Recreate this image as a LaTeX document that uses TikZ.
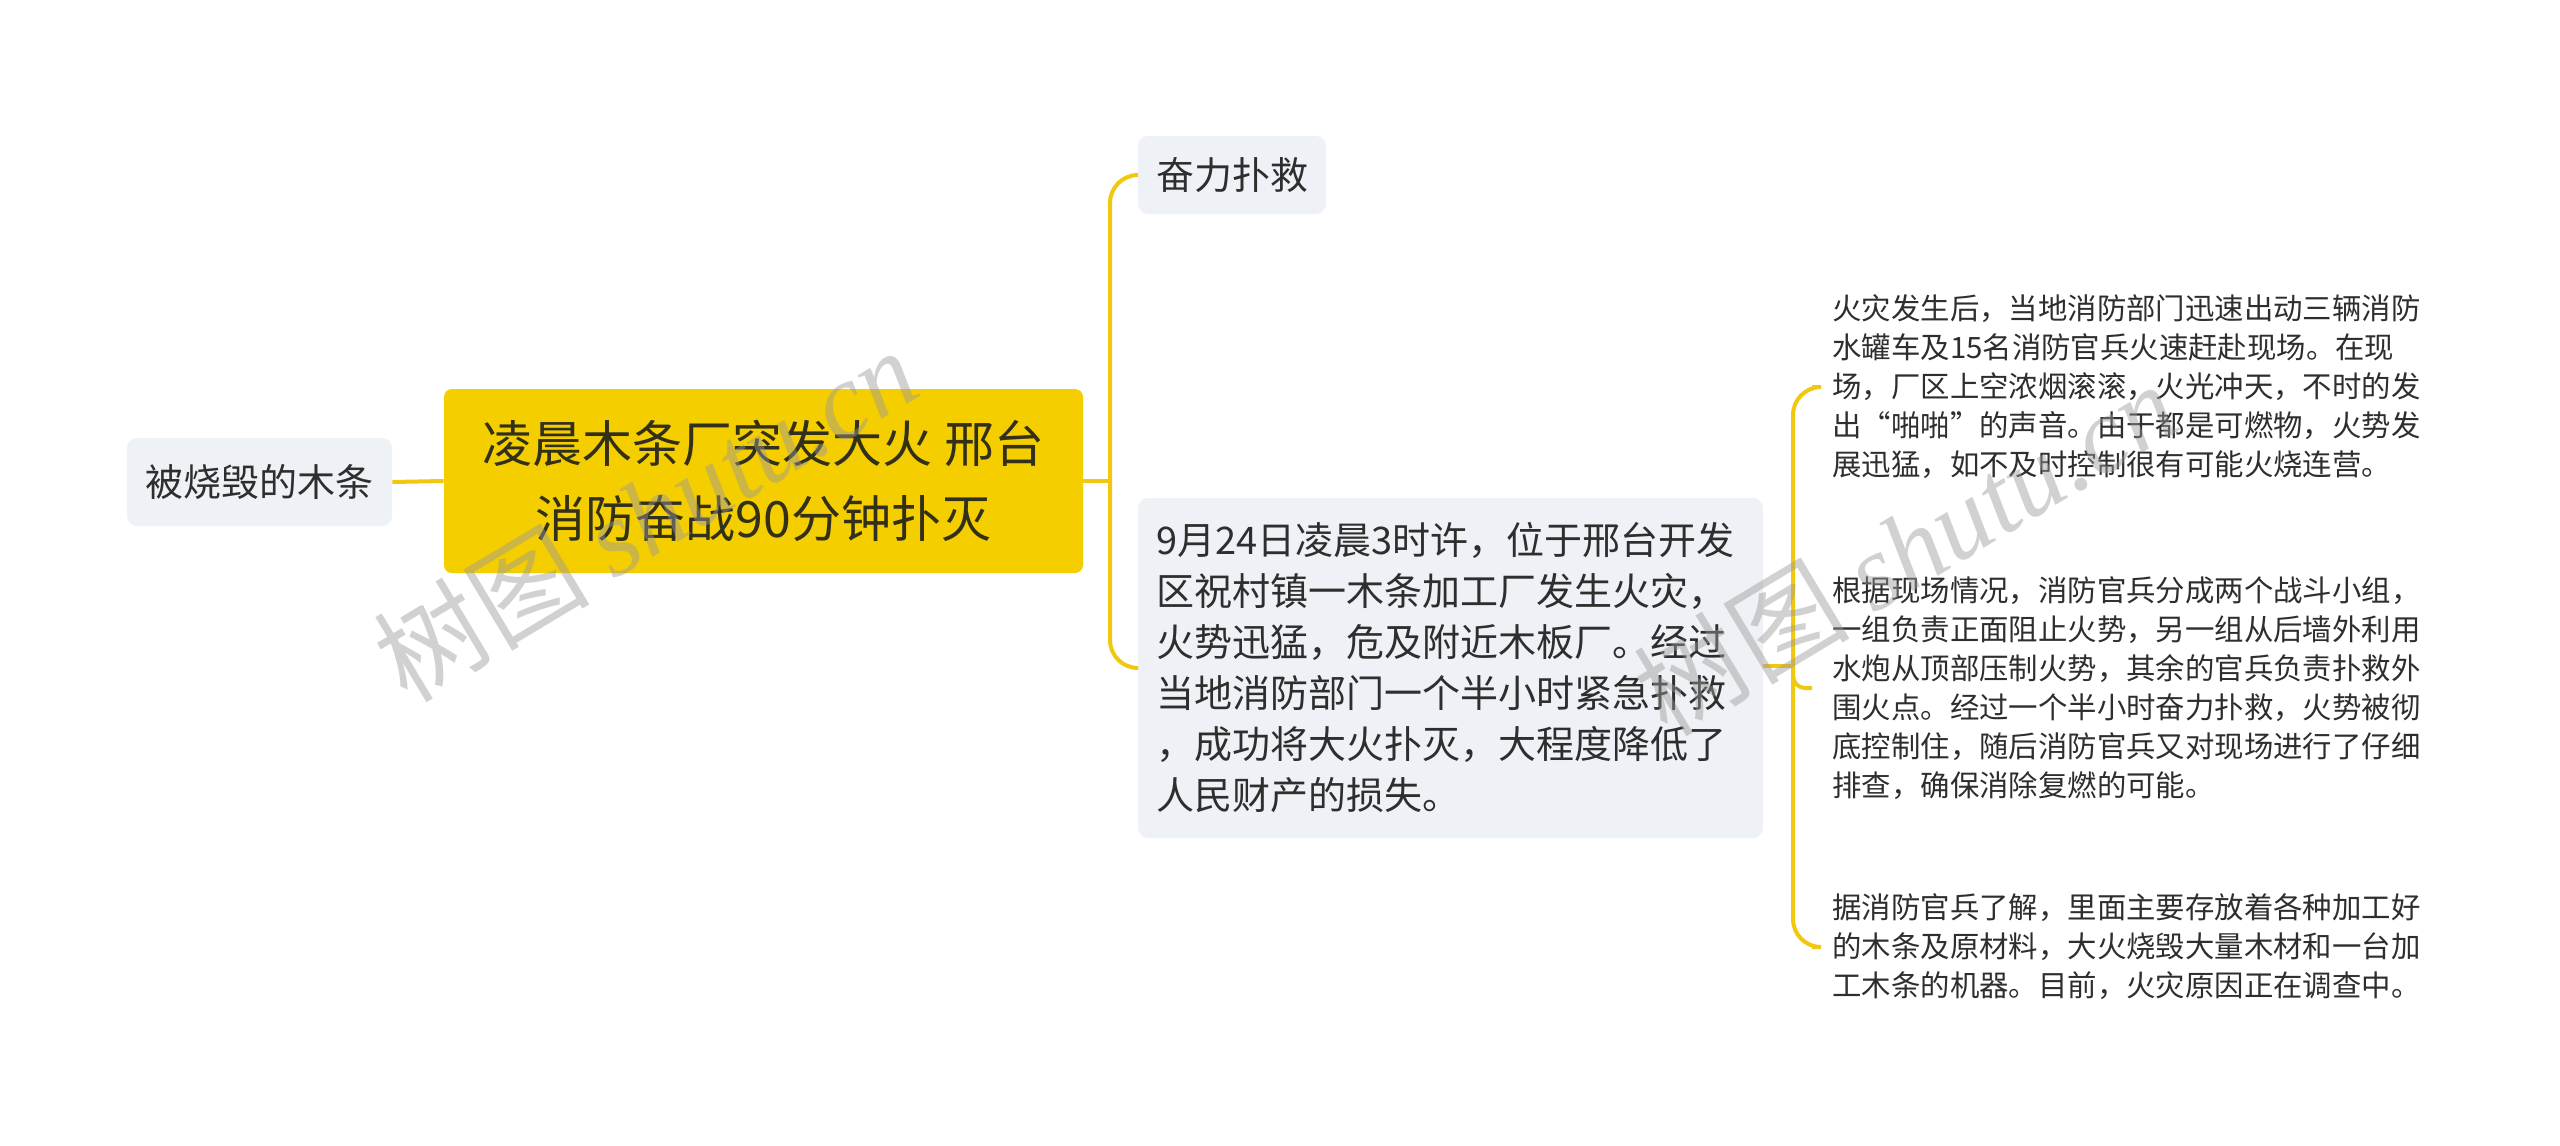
\documentclass[tikz,border=0pt]{standalone}
\usepackage{fontspec}
\setmainfont{Noto Sans CJK SC}
\newfontfamily\wmlatin{Liberation Serif}
\definecolor{rootfill}{HTML}{F5CE00}
\definecolor{nodefill}{HTML}{EEF1F5}
\definecolor{linecol}{HTML}{F2C80F}
\definecolor{txt}{HTML}{2E2E2E}
\definecolor{roottxt}{HTML}{33301A}
\definecolor{wmcol}{HTML}{9A9A9A}
\tikzset{
  conn/.style={draw=linecol, line width=2pt},
  rootbox/.style={fill=rootfill, rounded corners=4pt, text=roottxt, align=center,
    font=\fontsize{25pt}{37.5pt}\selectfont, inner sep=0pt},
  subbox/.style={fill=nodefill, rounded corners=5pt, text=txt, inner sep=0pt,
    font=\fontsize{19pt}{25.5pt}\selectfont},
  leaftext/.style={text=txt, anchor=west, align=left, inner xsep=10pt, inner ysep=0pt,
    font=\fontsize{14.7pt}{19.5pt}\selectfont},
  wmark/.style={text=wmcol, opacity=0.45, rotate=31, inner sep=0pt}
}
\begin{document}
\begin{tikzpicture}[x=0.5pt,y=-0.5pt]
\useasboundingbox[fill=white] (0,0) rectangle (2560,1146);

% nodes
\node[rootbox, minimum width=319.5pt, minimum height=92pt] (root) at (763.5,481)
  {凌晨木条厂突发大火 邢台\\消防奋战90分钟扑灭};
\node[subbox, minimum width=132.5pt, minimum height=44pt] (left) at (259.5,482) {被烧毁的木条};
\node[subbox, minimum width=94pt, minimum height=39pt] (fenli) at (1232,175) {奋力扑救};
\node[subbox, text width=294.5pt, inner xsep=9pt, minimum height=170pt, align=left] (big) at (1450.5,668)
  {9月24日凌晨3时许，位于邢台开发\\区祝村镇一木条加工厂发生火灾，\\火势迅猛，危及附近木板厂。经过\\当地消防部门一个半小时紧急扑救\\，成功将大火扑灭，大程度降低了\\人民财产的损失。};

\node[leaftext] (leafa) at (1812,387)
  {火灾发生后，当地消防部门迅速出动三辆消防\\水罐车及15名消防官兵火速赶赴现场。在现\\场，厂区上空浓烟滚滚，火光冲天，不时的发\\出“啪啪”的声音。由于都是可燃物，火势发\\展迅猛，如不及时控制很有可能火烧连营。};
\node[leaftext] (leafb) at (1812,688)
  {根据现场情况，消防官兵分成两个战斗小组，\\一组负责正面阻止火势，另一组从后墙外利用\\水炮从顶部压制火势，其余的官兵负责扑救外\\围火点。经过一个半小时奋力扑救，火势被彻\\底控制住，随后消防官兵又对现场进行了仔细\\排查，确保消除复燃的可能。};
\node[leaftext] (leafc) at (1812,947)
  {据消防官兵了解，里面主要存放着各种加工好\\的木条及原材料，大火烧毁大量木材和一台加\\工木条的机器。目前，火灾原因正在调查中。};

% connectors
\coordinate (j1) at (1110,481);
\coordinate (j2) at (1793,666);
\draw[conn] (left.east) -- (root.west);
\draw[conn] (root.east) -- (j1);
\draw[conn, rounded corners=14pt] (j1) |- (fenli.west);
\draw[conn, rounded corners=14pt] (j1) |- (big.west);
\draw[conn] (big.east |- j2) -- (j2);
\draw[conn, rounded corners=14pt] (j2) |- (leafa.west);
\draw[conn, rounded corners=14pt] (j2) |- (leafc.west);
\draw[conn, rounded corners=6pt] (j2) |- (leafb.west);

% watermarks
\node[wmark] (wm1) at (645,514) {\fontsize{54pt}{54pt}\selectfont 树图 {\wmlatin\itshape shutu.cn}};
\node[wmark] (wm2) at (1905,548) {\fontsize{54pt}{54pt}\selectfont 树图 {\wmlatin\itshape shutu.cn}};
\end{tikzpicture}
\end{document}
